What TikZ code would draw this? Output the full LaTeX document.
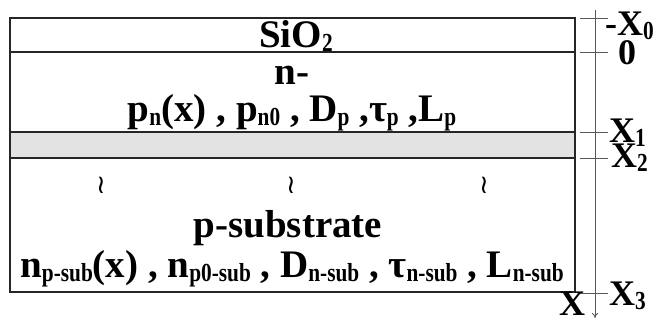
\documentclass[tikz,border=0pt]{standalone}
\usepackage{fontspec}
\usetikzlibrary{arrows.meta}
\setmainfont{Liberation Serif}
\newfontfamily\symfont{DejaVu Sans}
\newcommand\sbx[1]{\raisebox{-4pt}{\scalebox{0.82}[1]{\fontsize{26}{26}\selectfont #1}}}
\begin{document}
\begin{tikzpicture}[x=1pt,y=-1pt,
  lbl/.style={font=\fontsize{39}{39}\selectfont\bfseries, inner sep=0pt},
  axl/.style={font=\fontsize{36}{36}\selectfont\bfseries, inner sep=0pt},
  lay/.style={draw=black!85, line width=1.5pt},
  axis/.style={draw=black!65, line width=0.8pt},
  tick/.style={draw=black!65, line width=0.8pt},
  wv/.style={font=\symfont\fontsize{26}{26}\selectfont, inner sep=0pt}]
\useasboundingbox (0,0) rectangle (657,322);
% layers
\fill[black!11] (10,132) rectangle (575,158);
\draw[lay] (10,18) rectangle (575,292);
\draw[lay] (10,52) -- (575,52);
\draw[lay] (10,132) -- (575,132);
\draw[lay] (10,158) -- (575,158);
% texts
\node[lbl, anchor=base] (sio) at (296,47) {SiO\sbx{2}};
\node[lbl, anchor=base] (nm) at (292,84) {n-};
\node[lbl, anchor=base] (pn) at (292,121) {p\sbx{n}(x) , p\sbx{n0} , D\sbx{p} ,τ\sbx{p} ,L\sbx{p}};
\node[wv] (w1) at (101,185) {≀};
\node[wv] (w2) at (291,185) {≀};
\node[wv] (w3) at (484,185) {≀};
\node[lbl, anchor=base] (ps) at (288,237) {p-substrate};
\node[lbl, anchor=base] (nps) at (292,277) {n\sbx{p-sub}(x) , n\sbx{p0-sub} , D\sbx{n-sub} , τ\sbx{n-sub} , L\sbx{n-sub}};
% axis
\coordinate (atop) at (595,10);
\coordinate (abot) at (595,318);
\draw[axis,-{To[length=5pt,width=6pt]}] (atop) -- (abot);
\foreach \yy/\nm in {18/t0,52/t1,132/t2,158/t3,293/t4}{
  \coordinate (\nm a) at (580,\yy);
  \coordinate (\nm b) at (608,\yy);
  \draw[tick] (\nm a) -- (\nm b);
}
\node[axl, anchor=base west] (lx0) at (605,35) {-X\sbx{0}};
\node[axl, anchor=base] (l0) at (627,64) {0};
\node[axl, anchor=base west] (lx1) at (609,142) {X\sbx{1}};
\node[axl, anchor=base west] (lx2) at (611,167) {X\sbx{2}};
\node[axl, anchor=base west] (lx3) at (609,305) {X\sbx{3}};
\node[axl, anchor=base west] (lx) at (559,315) {X};
\end{tikzpicture}
\end{document}
